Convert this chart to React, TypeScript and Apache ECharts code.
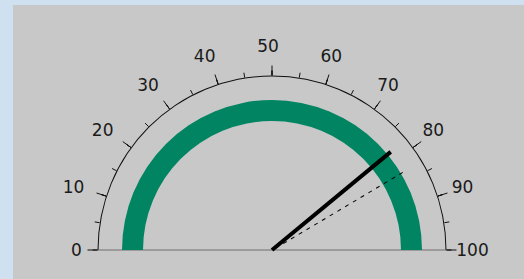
import React, { useEffect, useRef } from 'react';
import * as echarts from 'echarts';

// ---- data ----
const scaleMin = 0;
const scaleMax = 100;
const majorSplits = 10;
const minorSplits = 2;
const needleValue = [78];
const referenceValue = [83];
const bandColor = [[1, '#008462']];

export default function App() {
  const ref = useRef<HTMLDivElement>(null);

  useEffect(() => {
    const chart = echarts.init(ref.current!, null, { renderer: 'svg' });
    const cx = 272;
    const cy = 250;
    const arcR = 174.5;

    const base: any = {
      type: 'gauge',
      center: [cx, cy],
      startAngle: 180,
      endAngle: 0,
      min: scaleMin,
      max: scaleMax,
      splitNumber: majorSplits,
      silent: true,
      axisLine: { show: false, lineStyle: { width: 0 } },
      splitLine: { show: false, length: 0, distance: 0 },
      axisTick: { show: false },
      axisLabel: { show: false },
      pointer: { show: false },
      anchor: { show: false },
      progress: { show: false },
      title: { show: false },
      detail: { show: false },
      data: [],
    };

    const labelText = {
      width: 1,
      height: 1,
      lineHeight: 1,
      align: 'center',
      verticalAlign: 'middle',
      fontSize: 17,
      fontFamily: 'DejaVu Sans, Verdana, sans-serif',
      color: '#1a1a1a',
    };

    const option: any = {
      animation: false,
      backgroundColor: '#cfe0f1',
      graphic: [
        {
          type: 'rect',
          z: 0,
          silent: true,
          shape: { x: 13, y: 5, width: 511, height: 274 },
          style: { fill: '#c8c8c8' },
        },
        {
          type: 'line',
          z: 1,
          silent: true,
          shape: { x1: cx - arcR, y1: cy, x2: cx + arcR, y2: cy },
          style: { stroke: '#8c8c8c', lineWidth: 1.5 },
        },
      ],
      series: [
        {
          ...base,
          radius: 150,
          axisLine: { show: true, lineStyle: { width: 21, color: bandColor } },
        },
        {
          ...base,
          radius: arcR,
          axisLine: { show: true, lineStyle: { width: 1, color: [[1, '#111111']] } },
          splitLine: { show: true, length: 10, distance: -11, lineStyle: { color: '#111111', width: 1 } },
          axisTick: {
            show: true,
            splitNumber: minorSplits,
            length: 5,
            distance: -6,
            lineStyle: { color: '#111111', width: 1 },
          },
        },
        {
          ...base,
          radius: arcR,
          pointer: {
            show: true,
            icon: 'path://M0 0L1 100',
            length: 152,
            width: 0.5,
            keepAspect: false,
            itemStyle: { color: 'transparent', borderColor: '#000', borderWidth: 1, borderType: [4, 5] },
          },
          data: referenceValue.map((v) => ({ value: v })),
        },
        {
          ...base,
          radius: arcR,
          pointer: {
            show: true,
            icon: 'rect',
            length: 154,
            width: 4,
            itemStyle: { color: '#000000' },
          },
          data: needleValue.map((v) => ({ value: v })),
        },
        {
          ...base,
          center: [cx - 4, cy],
          radius: 205,
          axisLabel: {
            show: true,
            distance: 0,
            formatter: (v: number) => (v === scaleMin ? `{z|${v}}` : `{a|${v}}`),
            rich: {
              a: labelText,
              z: { ...labelText, padding: [0, 0, 0, 13] },
            },
          },
        },
      ],
    };

    chart.setOption(option);
    return () => chart.dispose();
  }, []);

  return (
    <div
      ref={ref}
      style={{ position: 'fixed', left: 0, top: 0, width: 524, height: 279 }}
    />
  );
}
